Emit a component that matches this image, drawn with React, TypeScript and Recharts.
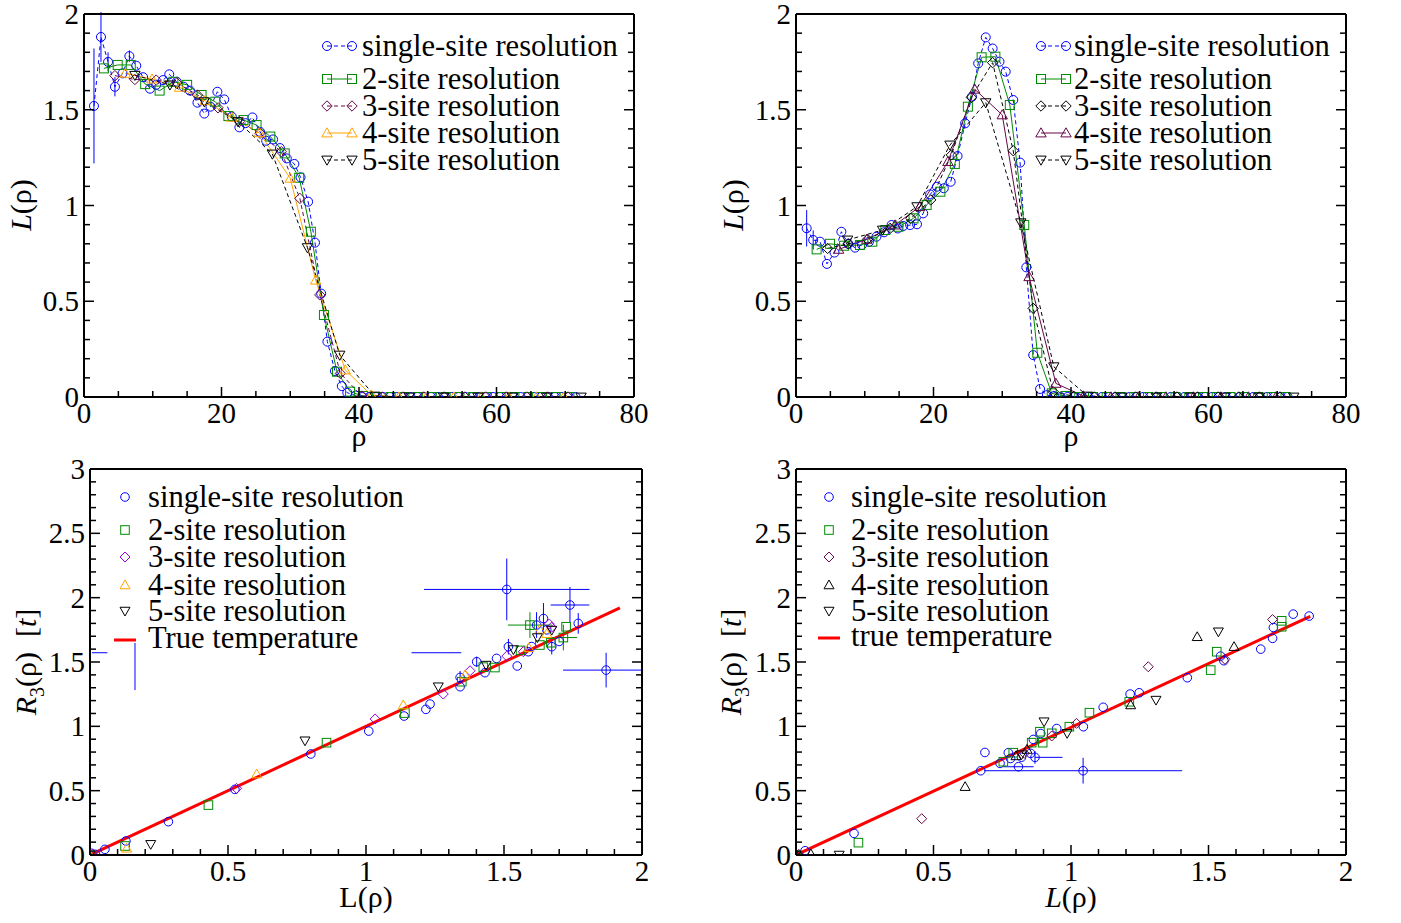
import React from 'react';
import { ComposedChart, Line, Scatter, XAxis, YAxis, ErrorBar } from 'recharts';

// ---------- top-left panel: L(rho) vs rho ----------
const tlRho1 = [1.45, 2.47, 3.5, 4.5, 5.6, 6.6, 7.6, 8.6, 9.6, 10.5, 11.5, 12.4, 13.5, 14.5, 15.4, 16.5, 17.5, 18.4, 19.4, 20.4, 21.5, 22.6, 23.5, 24.5, 25.6, 26.5, 27.5, 28.5, 29.5, 30.6, 31.5, 32.6, 33.6, 34.5, 35.4, 36.5, 37.5, 38.3, 39.5, 40.5, 41.5, 42.5, 43.5, 44.5, 45.5, 46.5, 47.5, 48.5, 49.5, 50.5, 51.5, 52.5, 53.5, 54.5, 55.5, 56.5, 57.5, 58.5, 59.5, 60.5, 61.5, 62.5, 63.5, 64.5, 65.5, 66.5, 67.5, 68.5, 69.5, 70.5, 71.5];
const tlL1 = [1.52, 1.88, 1.75, 1.62, 1.69, 1.78, 1.73, 1.67, 1.61, 1.63, 1.655, 1.685, 1.646, 1.62, 1.6, 1.537, 1.48, 1.516, 1.594, 1.554, 1.464, 1.408, 1.43, 1.46, 1.385, 1.338, 1.345, 1.3, 1.246, 1.217, 1.147, 1.02, 0.806, 0.54, 0.289, 0.136, 0.057, 0.022, 0.008, 0, 0, 0, 0, 0, 0, 0, 0, 0, 0, 0, 0, 0, 0, 0, 0, 0, 0, 0, 0, 0, 0, 0, 0, 0, 0, 0, 0, 0, 0, 0, 0];
const tlErr1: Record<number, number> = { 0: 0.3, 1: 0.13, 2: 0.05, 3: 0.05, 5: 0.03 };
const tlRho2 = [2.9, 4.9, 6.8, 8.9, 11.0, 13.0, 15.0, 17.1, 19.1, 21.0, 23.2, 25.1, 27.1, 29.2, 31.3, 33.0, 34.9, 36.8, 38.7, 40.6, 42.6, 44.6, 46.6, 48.6, 50.6, 52.6, 54.6, 56.6, 58.6, 60.6, 62.6, 64.6, 66.6, 68.6, 70.6];
const tlL2 = [1.716, 1.734, 1.734, 1.634, 1.6, 1.646, 1.63, 1.577, 1.542, 1.467, 1.446, 1.42, 1.36, 1.272, 1.145, 0.863, 0.428, 0.132, 0.028, 0.005, 0, 0, 0, 0, 0, 0, 0, 0, 0, 0, 0, 0, 0, 0, 0];
const tlRho3 = [4.5, 7.4, 10.5, 13.5, 16.5, 19.5, 22.6, 25.6, 28.7, 31.4, 34.3, 37.3, 40.4, 43.4, 46.4, 49.4, 52.4, 55.4, 58.4, 61.4, 64.4, 67.4, 70.4];
const tlL3 = [1.678, 1.658, 1.655, 1.64, 1.577, 1.51, 1.438, 1.377, 1.281, 1.037, 0.533, 0.123, 0.005, 0, 0, 0, 0, 0, 0, 0, 0, 0, 0];
const tlRho4 = [6.0, 9.9, 13.9, 17.6, 21.5, 25.5, 30.0, 33.7, 38.0, 41.8, 45.8, 49.8, 53.8, 57.8, 61.8, 65.8, 69.8];
const tlL4 = [1.69, 1.66, 1.617, 1.547, 1.46, 1.38, 1.142, 0.61, 0.141, 0.01, 0, 0, 0, 0, 0, 0, 0];
const tlRho5 = [7.4, 12.5, 17.5, 22.4, 27.4, 32.5, 37.2, 42.3, 47.3, 52.3, 57.3, 62.3, 67.3, 72.3];
const tlL5 = [1.68, 1.63, 1.542, 1.438, 1.269, 0.78, 0.219, 0.005, 0, 0, 0, 0, 0, 0];

// ---------- top-right panel ----------
const trRho1 = [1.55, 2.5, 3.5, 4.5, 5.6, 6.6, 7.6, 8.6, 9.6, 10.6, 11.7, 12.8, 13.9, 14.8, 15.6, 16.6, 17.6, 18.5, 19.5, 20.5, 21.5, 22.5, 23.5, 24.6, 25.6, 26.5, 27.6, 28.6, 29.6, 30.5, 31.6, 32.6, 33.5, 34.5, 35.5, 36.5, 37.5, 38.5, 39.5, 40.5, 41.5, 42.5, 43.5, 44.5, 45.5, 46.5, 47.5, 48.5, 49.5, 50.5, 51.5, 52.5, 53.5, 54.5, 55.5, 56.5, 57.5, 58.5, 59.5, 60.5, 61.5, 62.5, 63.5, 64.5, 65.5, 66.5, 67.5, 68.5, 69.5, 70.5, 71.5];
const trL1 = [0.881, 0.82, 0.811, 0.695, 0.754, 0.863, 0.8, 0.78, 0.794, 0.81, 0.837, 0.86, 0.898, 0.88, 0.893, 0.898, 0.902, 0.959, 1.058, 1.098, 1.09, 1.124, 1.258, 1.429, 1.568, 1.742, 1.878, 1.82, 1.751, 1.699, 1.551, 1.224, 0.677, 0.219, 0.042, 0.01, 0.004, 0, 0, 0, 0, 0, 0, 0, 0, 0, 0, 0, 0, 0, 0, 0, 0, 0, 0, 0, 0, 0, 0, 0, 0, 0, 0, 0, 0, 0, 0, 0, 0, 0, 0];
const trErr1: Record<number, number> = { 0: 0.095, 1: 0.05 };
const trRho2 = [3.0, 4.95, 7.0, 9.3, 11.1, 13.0, 14.9, 17.1, 19.0, 21.0, 23.1, 25.0, 27.0, 29.0, 31.1, 33.2, 35.1, 37.2, 39.2, 41.2, 43.2, 45.2, 47.2, 49.2, 51.2, 53.2, 55.2, 57.2, 59.2, 61.2, 63.2, 65.2, 67.2, 69.2, 71.2];
const trL2 = [0.771, 0.8, 0.79, 0.794, 0.811, 0.872, 0.889, 0.933, 1.003, 1.072, 1.217, 1.516, 1.774, 1.777, 1.525, 0.898, 0.231, 0.019, 0.005, 0, 0, 0, 0, 0, 0, 0, 0, 0, 0, 0, 0, 0, 0, 0, 0];
const trRho3 = [4.6, 7.6, 10.4, 13.7, 16.7, 19.6, 22.6, 25.5, 28.6, 31.6, 34.5, 37.4, 40.4, 43.4, 46.4, 49.4, 52.4, 55.4, 58.4, 61.4, 64.4, 67.4, 70.4];
const trL3 = [0.776, 0.8, 0.823, 0.881, 0.933, 1.029, 1.264, 1.565, 1.746, 1.286, 0.463, 0.028, 0.003, 0, 0, 0, 0, 0, 0, 0, 0, 0, 0];
const trRho4 = [6.2, 10.3, 14.4, 18.0, 22.1, 26.0, 30.0, 33.9, 37.8, 41.8, 45.8, 49.8, 53.8, 57.8, 61.8, 65.8, 69.8];
const trL4 = [0.771, 0.823, 0.898, 0.994, 1.229, 1.607, 1.473, 0.628, 0.071, 0.005, 0, 0, 0, 0, 0, 0, 0];
const trRho5 = [7.5, 12.6, 17.6, 22.4, 27.6, 32.7, 37.5, 42.4, 47.4, 52.4, 57.4, 62.4, 67.4, 72.4];
const trL5 = [0.82, 0.872, 0.994, 1.316, 1.537, 0.91, 0.158, 0.005, 0, 0, 0, 0, 0, 0];

// ---------- bottom-left panel: R3 vs L ----------
const blX1 = [0.006, 0.02, 0.054, 0.13, 0.284, 0.525, 0.8, 1.01, 1.138, 1.217, 1.232, 1.341, 1.341, 1.401, 1.431, 1.473, 1.516, 1.51, 1.548, 1.588, 1.618, 1.643, 1.673, 1.739, 1.769, 1.87, 1.6, 1.655, 1.7];
const blY1 = [0.013, 0.005, 0.044, 0.109, 0.259, 0.51, 0.785, 0.963, 1.08, 1.132, 1.173, 1.308, 1.38, 1.502, 1.417, 1.528, 1.619, 2.064, 1.469, 1.58, 1.787, 1.838, 1.619, 1.943, 1.8, 1.437, 1.62, 1.75, 1.66];
const blEx1: Record<number, number | number[]> = { 17: 0.3, 23: 0.07, 25: [0.156, 0.13] };
const blEy1: Record<number, number | number[]> = { 12: 0.05, 13: 0.04, 16: 0.06, 17: 0.24, 20: 0.1, 21: 0.12, 22: 0.06, 23: 0.14, 24: 0.08, 25: 0.135 };
const blGhostX = [1.255, 0.163, 0.035];
const blGhostY = [1.572, 1.465, 1.572];
const blGhostEx: Record<number, number> = { 0: 0.09, 2: 0.028 };
const blGhostEy: Record<number, number> = { 1: 0.183 };
const blX2 = [0.005, 0.127, 0.429, 0.857, 1.141, 1.347, 1.425, 1.467, 1.594, 1.63, 1.715, 1.725, 1.56, 1.67];
const blY2 = [0.0, 0.07, 0.388, 0.873, 1.103, 1.347, 1.46, 1.457, 1.787, 1.632, 1.69, 1.774, 1.59, 1.65];
const blEx2: Record<number, number> = { 8: 0.08, 10: 0.05 };
const blEy2: Record<number, number> = { 8: 0.1, 10: 0.1 };
const blX3 = [0.01, 0.531, 1.033, 1.28, 1.377, 1.51, 1.57, 1.664, 1.672];
const blY3 = [0.005, 0.518, 1.057, 1.251, 1.432, 1.546, 1.58, 1.795, 1.77];
const blX4 = [0.0, 0.133, 0.604, 1.135, 1.359, 1.63, 1.655, 1.59];
const blY4 = [0.0, 0.052, 0.629, 1.166, 1.399, 1.753, 1.72, 1.61];
const blX5 = [0.0, 0.22, 0.779, 1.262, 1.435, 1.534, 1.621, 1.673];
const blY5 = [0.0, 0.083, 0.888, 1.308, 1.476, 1.597, 1.69, 1.748];
const blRedX = [0, 1.92];
const blRedY = [0, 1.92];

// ---------- bottom-right panel ----------
const brX1 = [0.0, 0.033, 0.211, 0.672, 0.687, 0.742, 0.772, 0.809, 0.853, 0.869, 0.863, 0.89, 0.948, 1.045, 1.044, 1.117, 1.215, 1.248, 1.423, 1.544, 1.556, 1.69, 1.733, 1.736, 1.808, 1.866, 0.82, 0.78];
const brY1 = [0.0, 0.033, 0.168, 0.655, 0.797, 0.712, 0.795, 0.686, 0.79, 0.759, 0.898, 0.944, 0.983, 0.997, 0.655, 1.148, 1.251, 1.261, 1.378, 1.546, 1.51, 1.6, 1.684, 1.768, 1.872, 1.857, 0.76, 0.75];
const brEx1: Record<number, number | number[]> = { 7: 0.055, 9: [0, 0.1], 14: 0.36 };
const brEy1: Record<number, number> = { 9: 0.05, 14: 0.1 };
const brX2 = [0.0, 0.227, 0.754, 0.79, 0.857, 0.887, 0.897, 0.93, 0.994, 1.067, 1.212, 1.508, 1.53, 1.766, 1.766];
const brY2 = [0.0, 0.096, 0.725, 0.795, 0.873, 0.958, 0.873, 0.946, 0.997, 1.106, 1.191, 1.437, 1.58, 1.82, 1.774];
const brX3 = [0.01, 0.457, 0.83, 0.93, 1.02, 1.281, 1.56, 1.733];
const brY3 = [0.005, 0.282, 0.79, 0.925, 1.023, 1.463, 1.521, 1.83];
const brX4 = [0.0, 0.054, 0.615, 0.8, 0.84, 1.217, 1.459, 1.593];
const brY4 = [0.0, 0.008, 0.531, 0.77, 0.82, 1.166, 1.696, 1.619];
const brX5 = [0.0, 0.157, 0.82, 0.902, 0.986, 1.309, 1.536];
const brY5 = [0.0, 0.0, 0.78, 1.036, 0.946, 1.204, 1.735];
const brRedX = [0, 1.87];
const brRedY = [0, 1.855];

// ticks
const rhoTicks = [0, 5, 10, 15, 20, 25, 30, 35, 40, 45, 50, 55, 60, 65, 70, 75, 80];
const rhoMajor = [0, 20, 40, 60, 80];
const lTicks = [0, 0.1, 0.2, 0.3, 0.4, 0.5, 0.6, 0.7, 0.8, 0.9, 1, 1.1, 1.2, 1.3, 1.4, 1.5, 1.6, 1.7, 1.8, 1.9, 2];
const lMajor = [0, 0.5, 1, 1.5, 2];
const rTicks = [0, 0.1, 0.2, 0.3, 0.4, 0.5, 0.6, 0.7, 0.8, 0.9, 1, 1.1, 1.2, 1.3, 1.4, 1.5, 1.6, 1.7, 1.8, 1.9, 2, 2.1, 2.2, 2.3, 2.4, 2.5, 2.6, 2.7, 2.8, 2.9, 3];
const rMajor = [0, 0.5, 1, 1.5, 2, 2.5, 3];

const labels = ['single-site resolution', '2-site resolution', '3-site resolution', '4-site resolution', '5-site resolution'];

const FONT = "'Liberation Serif', 'Times New Roman', serif";
const BLUE = '#0000ff';
const GREEN = '#008b00';
const MAROON = '#670748';
const VIOLET = '#9400d3';
const ORANGE = '#ffa500';
const BLACK = '#000000';
const RED = '#ff0000';
const DASH = '4 3';

type Kind = 'circle' | 'square' | 'diamond' | 'up' | 'down';
type Pt = { x: number; y: number; ex: number | number[]; ey: number | number[] };

const zip = (xs: number[], ys: number[], ey: Record<number, any> = {}, ex: Record<number, any> = {}): Pt[] =>
  xs.map((x, i) => ({ x, y: ys[i], ex: ex[i] ?? 0, ey: ey[i] ?? 0 }));

function Marker({ kind, cx, cy, color, s = 4.5 }: { kind: Kind; cx: number; cy: number; color: string; s?: number }) {
  if (cx == null || cy == null || isNaN(cx) || isNaN(cy)) return <g />;
  const c = { fill: 'none', stroke: color, strokeWidth: 1 };
  if (kind === 'circle') return <circle cx={cx} cy={cy} r={s} {...c} />;
  if (kind === 'square') return <rect x={cx - s} y={cy - s} width={2 * s} height={2 * s} {...c} />;
  const d = s + 0.7;
  if (kind === 'diamond') return <polygon points={`${cx},${cy - d} ${cx + d},${cy} ${cx},${cy + d} ${cx - d},${cy}`} {...c} />;
  if (kind === 'up') return <polygon points={`${cx},${cy - d} ${cx + d},${cy + d * 0.75} ${cx - d},${cy + d * 0.75}`} {...c} />;
  return <polygon points={`${cx},${cy + d} ${cx + d},${cy - d * 0.75} ${cx - d},${cy - d * 0.75}`} {...c} />;
}

type Series = { label: string; kind: Kind; color: string; dash?: string; data: Pt[] };

const tlSeries: Series[] = [
  { label: labels[0], kind: 'circle', color: BLUE, dash: DASH, data: zip(tlRho1, tlL1, tlErr1) },
  { label: labels[1], kind: 'square', color: GREEN, data: zip(tlRho2, tlL2) },
  { label: labels[2], kind: 'diamond', color: MAROON, dash: DASH, data: zip(tlRho3, tlL3) },
  { label: labels[3], kind: 'up', color: ORANGE, data: zip(tlRho4, tlL4) },
  { label: labels[4], kind: 'down', color: BLACK, dash: DASH, data: zip(tlRho5, tlL5) },
];
const trSeries: Series[] = [
  { label: labels[0], kind: 'circle', color: BLUE, dash: DASH, data: zip(trRho1, trL1, trErr1) },
  { label: labels[1], kind: 'square', color: GREEN, data: zip(trRho2, trL2) },
  { label: labels[2], kind: 'diamond', color: BLACK, dash: DASH, data: zip(trRho3, trL3) },
  { label: labels[3], kind: 'up', color: MAROON, data: zip(trRho4, trL4) },
  { label: labels[4], kind: 'down', color: BLACK, dash: DASH, data: zip(trRho5, trL5) },
];
const blSeries: Series[] = [
  { label: labels[0], kind: 'circle', color: BLUE, data: zip(blX1, blY1, blEy1, blEx1) },
  { label: labels[1], kind: 'square', color: GREEN, data: zip(blX2, blY2, blEy2, blEx2) },
  { label: labels[2], kind: 'diamond', color: VIOLET, data: zip(blX3, blY3) },
  { label: labels[3], kind: 'up', color: ORANGE, data: zip(blX4, blY4) },
  { label: labels[4], kind: 'down', color: BLACK, data: zip(blX5, blY5) },
];
const brSeries: Series[] = [
  { label: labels[0], kind: 'circle', color: BLUE, data: zip(brX1, brY1, brEy1, brEx1) },
  { label: labels[1], kind: 'square', color: GREEN, data: zip(brX2, brY2) },
  { label: labels[2], kind: 'diamond', color: MAROON, data: zip(brX3, brY3) },
  { label: labels[3], kind: 'up', color: BLACK, data: zip(brX4, brY4) },
  { label: labels[4], kind: 'down', color: BLACK, data: zip(brX5, brY5) },
];

const AX_L = 60, AX_R = 30, AX_T = 20, AX_B = 50;

interface PanelProps {
  left: number; top: number; plotW: number; plotH: number;
  xDomain: [number, number]; yDomain: [number, number];
  xTicks: number[]; xMajor: number[]; yTicks: number[]; yMajor: number[];
  children: React.ReactNode;
}

function Panel(p: PanelProps) {
  const W = AX_L + p.plotW + AX_R;
  const H = AX_T + p.plotH + AX_B;
  const x0 = AX_L, x1 = AX_L + p.plotW, y0 = AX_T, y1 = AX_T + p.plotH;
  const tk = { stroke: '#000', strokeWidth: 1.5 };
  const txt = { fontSize: 29, fontFamily: FONT, fill: '#000' };
  const bottomTick = (t: any) => {
    const v = t.payload.value;
    const major = p.xMajor.includes(v);
    return (
      <g>
        <line x1={t.x} x2={t.x} y1={y1} y2={y1 - (major ? 10 : 6)} {...tk} />
        {major && <text x={t.x} y={y1 + 26} textAnchor="middle" {...txt}>{String(v)}</text>}
      </g>
    );
  };
  const topTick = (t: any) => {
    const major = p.xMajor.includes(t.payload.value);
    return <line x1={t.x} x2={t.x} y1={y0} y2={y0 + (major ? 10 : 6)} {...tk} />;
  };
  const leftTick = (t: any) => {
    const v = t.payload.value;
    const major = p.yMajor.includes(v);
    return (
      <g>
        <line x1={x0} x2={x0 + (major ? 10 : 6)} y1={t.y} y2={t.y} {...tk} />
        {major && <text x={x0 - 5} y={t.y + 10} textAnchor="end" {...txt}>{String(v)}</text>}
      </g>
    );
  };
  const rightTick = (t: any) => {
    const major = p.yMajor.includes(t.payload.value);
    return <line x1={x1} x2={x1 - (major ? 10 : 6)} y1={t.y} y2={t.y} {...tk} />;
  };
  const axisLine = { stroke: '#000', strokeWidth: 2 };
  return (
    <div style={{ position: 'absolute', left: p.left - AX_L, top: p.top - AX_T }}>
      <ComposedChart width={W} height={H} margin={{ top: 0, right: 0, bottom: 0, left: 0 }}>
        <XAxis xAxisId={0} dataKey="x" type="number" domain={p.xDomain} ticks={p.xTicks} interval={0} height={AX_B}
          tickLine={false} tick={bottomTick} axisLine={axisLine} allowDataOverflow />
        <XAxis xAxisId="top" orientation="top" type="number" domain={p.xDomain} ticks={p.xTicks} interval={0} height={AX_T}
          tickLine={false} tick={topTick} axisLine={axisLine} allowDataOverflow />
        <YAxis yAxisId={0} dataKey="y" type="number" domain={p.yDomain} ticks={p.yTicks} interval={0} width={AX_L}
          tickLine={false} tick={leftTick} axisLine={axisLine} allowDataOverflow />
        <YAxis yAxisId="right" orientation="right" type="number" domain={p.yDomain} ticks={p.yTicks} interval={0} width={AX_R}
          tickLine={false} tick={rightTick} axisLine={axisLine} allowDataOverflow />
        {p.children}
      </ComposedChart>
    </div>
  );
}

const lineSeries = (s: Series) => (
  <Line key={s.label} data={s.data} dataKey="y" type="linear" stroke={s.color} strokeWidth={1} strokeDasharray={s.dash}
    isAnimationActive={false} activeDot={false}
    dot={(d: any) => <Marker key={`${s.label}-${d.index}`} kind={s.kind} cx={d.cx} cy={d.cy} color={s.color} />}>
    <ErrorBar dataKey="ey" direction="y" width={0} stroke={s.color} strokeWidth={1} />
  </Line>
);

const scatterSeries = (s: Series) => (
  <Scatter key={s.label} data={s.data} fill={s.color} isAnimationActive={false}
    shape={(d: any) => <Marker kind={s.kind} cx={d.cx} cy={d.cy} color={s.color} s={4.3} />}>
    <ErrorBar dataKey="ex" direction="x" width={0} stroke={s.color} strokeWidth={1} />
    <ErrorBar dataKey="ey" direction="y" width={0} stroke={s.color} strokeWidth={1} />
  </Scatter>
);

const redLine = (xs: number[], ys: number[]) => (
  <Line key="red" data={zip(xs, ys)} dataKey="y" stroke={RED} strokeWidth={3} dot={false} activeDot={false} isAnimationActive={false} />
);

const LEG_FS = 30.6;

function LineLegend({ items, m1, m2, tx, rows }: { items: Series[]; m1: number; m2: number; tx: number; rows: number[] }) {
  return (
    <g>
      {items.map((it, i) => (
        <g key={it.label}>
          <line x1={m1} x2={m2} y1={rows[i]} y2={rows[i]} stroke={it.color} strokeWidth={1} strokeDasharray={it.dash} />
          <Marker kind={it.kind} cx={m1} cy={rows[i]} color={it.color} />
          <Marker kind={it.kind} cx={m2} cy={rows[i]} color={it.color} />
          <text x={tx} y={rows[i] + 10} fontSize={LEG_FS} fontFamily={FONT}>{it.label}</text>
        </g>
      ))}
    </g>
  );
}

function ScatterLegend({ items, mx, tx, rows, redLabel }: { items: Series[]; mx: number; tx: number; rows: number[]; redLabel: string }) {
  const ry = rows[5];
  return (
    <g>
      {items.map((it, i) => (
        <g key={it.label}>
          <Marker kind={it.kind} cx={mx} cy={rows[i]} color={it.color} s={4.3} />
          <text x={tx} y={rows[i] + 10} fontSize={LEG_FS} fontFamily={FONT}>{it.label}</text>
        </g>
      ))}
      <line x1={mx - 11} x2={mx + 11} y1={ry + 2} y2={ry + 2} stroke={RED} strokeWidth={3} />
      <text x={tx} y={ry + 10} fontSize={LEG_FS} fontFamily={FONT}>{redLabel}</text>
    </g>
  );
}

const rowsTop = [46, 79, 106, 133, 160];
const rowsBottom = [497, 530, 557, 585, 611, 638];

export default function App() {
  const label = { fontSize: 30, fontFamily: FONT, fill: '#000' };
  return (
    <div style={{ position: 'absolute', left: 0, top: 0, width: 1401, height: 923, background: '#fff' }}>
      <Panel left={84} top={14} plotW={550} plotH={383} xDomain={[0, 80]} yDomain={[0, 2]}
        xTicks={rhoTicks} xMajor={rhoMajor} yTicks={lTicks} yMajor={lMajor}>
        {tlSeries.map(lineSeries)}
      </Panel>
      <Panel left={796} top={14} plotW={550} plotH={383} xDomain={[0, 80]} yDomain={[0, 2]}
        xTicks={rhoTicks} xMajor={rhoMajor} yTicks={lTicks} yMajor={lMajor}>
        {trSeries.map(lineSeries)}
      </Panel>
      <Panel left={90} top={469} plotW={552} plotH={386} xDomain={[0, 2]} yDomain={[0, 3]}
        xTicks={lTicks} xMajor={lMajor} yTicks={rTicks} yMajor={rMajor}>
        <Scatter key="ghost" data={zip(blGhostX, blGhostY, blGhostEy, blGhostEx)} fill={BLUE} isAnimationActive={false} shape={() => <g />}>
          <ErrorBar dataKey="ex" direction="x" width={0} stroke={BLUE} strokeWidth={1} />
          <ErrorBar dataKey="ey" direction="y" width={0} stroke={BLUE} strokeWidth={1} />
        </Scatter>
        {blSeries.map(scatterSeries)}
        {redLine(blRedX, blRedY)}
      </Panel>
      <Panel left={796} top={469} plotW={550} plotH={386} xDomain={[0, 2]} yDomain={[0, 3]}
        xTicks={lTicks} xMajor={lMajor} yTicks={rTicks} yMajor={rMajor}>
        {brSeries.map(scatterSeries)}
        {redLine(brRedX, brRedY)}
      </Panel>

      <svg width={1401} height={923} style={{ position: 'absolute', left: 0, top: 0, pointerEvents: 'none' }}>
        <LineLegend items={tlSeries} m1={327} m2={352} tx={362} rows={rowsTop} />
        <LineLegend items={trSeries} m1={1041} m2={1066} tx={1074} rows={rowsTop} />
        <ScatterLegend items={blSeries} mx={125} tx={148} rows={rowsBottom} redLabel="True temperature" />
        <ScatterLegend items={brSeries} mx={829} tx={851} rows={[497, 530, 557, 585, 611, 636]} redLabel="true temperature" />

        <text transform="translate(31,205) rotate(-90)" textAnchor="middle" {...label}>
          <tspan fontStyle="italic">L</tspan>(ρ)
        </text>
        <text x={359} y={446} textAnchor="middle" {...label}>ρ</text>
        <text transform="translate(743,205) rotate(-90)" textAnchor="middle" {...label}>
          <tspan fontStyle="italic">L</tspan>(ρ)
        </text>
        <text x={1071} y={446} textAnchor="middle" {...label}>ρ</text>

        <text transform="translate(36,662) rotate(-90)" textAnchor="middle" {...label}>
          <tspan fontStyle="italic">R</tspan><tspan fontSize={20} dy={8}>3</tspan><tspan dy={-8}>(ρ){'\u00a0\u00a0'}[</tspan><tspan fontStyle="italic">t</tspan>]
        </text>
        <text x={366} y={907} textAnchor="middle" {...label}>L(ρ)</text>
        <text transform="translate(741,662) rotate(-90)" textAnchor="middle" {...label}>
          <tspan fontStyle="italic">R</tspan><tspan fontSize={20} dy={8}>3</tspan><tspan dy={-8}>(ρ){'\u00a0\u00a0'}[</tspan><tspan fontStyle="italic">t</tspan>]
        </text>
        <text x={1071} y={907} textAnchor="middle" {...label}>
          <tspan fontStyle="italic">L</tspan>(ρ)
        </text>
      </svg>
    </div>
  );
}
